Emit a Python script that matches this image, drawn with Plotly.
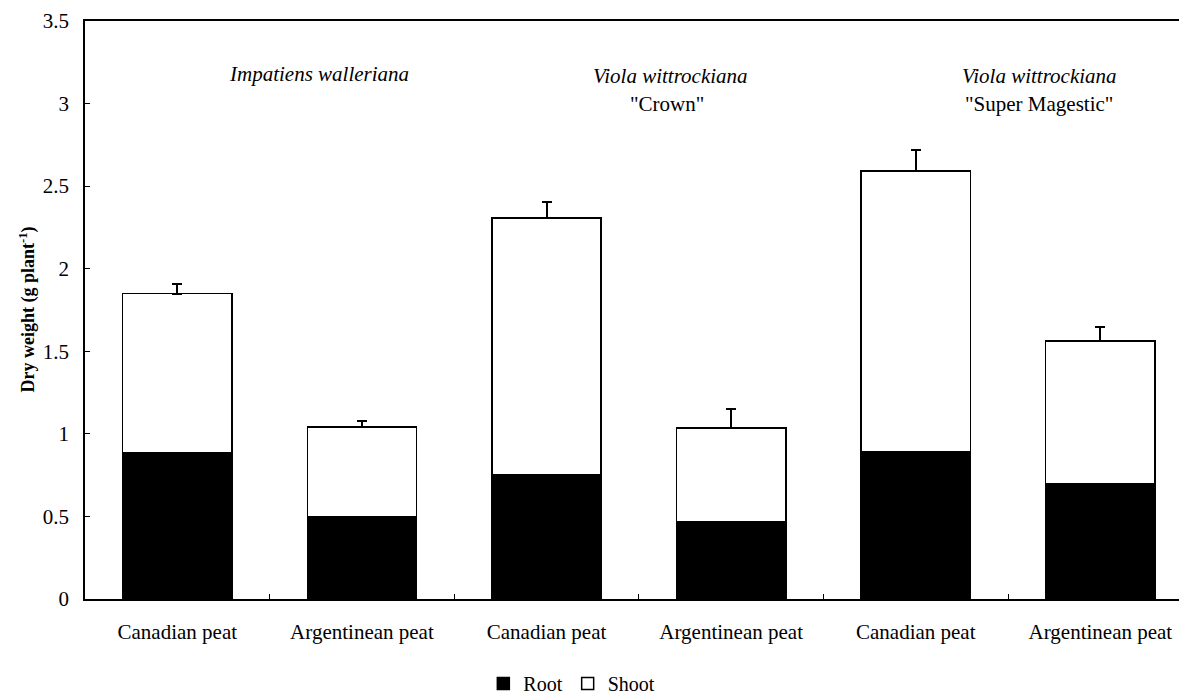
import plotly.graph_objects as go

categories = ["Canadian peat", "Argentinean peat", "Canadian peat",
              "Argentinean peat", "Canadian peat", "Argentinean peat"]
root = [0.885, 0.497, 0.751, 0.469, 0.892, 0.697]
shoot = [0.964, 0.546, 1.555, 0.566, 1.700, 0.866]
shoot_err = [0.056, 0.036, 0.097, 0.113, 0.127, 0.083]
y_ticks = [0, 0.5, 1, 1.5, 2, 2.5, 3, 3.5]
y_ticktext = ["0", "0.5", "1", "1.5", "2", "2.5", "3", "3.5"]

x_pos = list(range(len(categories)))
FONT = "Liberation Serif"

fig = go.Figure()
fig.add_trace(go.Bar(
    x=x_pos, y=root, name="Root",
    marker=dict(color="black", line=dict(color="black", width=1.5)),
))
fig.add_trace(go.Bar(
    x=x_pos, y=shoot, name="Shoot",
    marker=dict(color="white", line=dict(color="black", width=1.5)),
    error_y=dict(type="data", symmetric=False, array=shoot_err,
                 arrayminus=[0] * len(shoot_err),
                 color="black", thickness=2, width=5),
))

annos = [
    (0.77, 3.18, "<i>Impatiens walleriana</i>"),
    (2.67, 3.165, "<i>Viola wittrockiana</i>"),
    (2.65, 2.995, '"Crown"'),
    (4.67, 3.165, "<i>Viola wittrockiana</i>"),
    (4.67, 2.995, '"Super Magestic"'),
]
for ax, ay, t in annos:
    fig.add_annotation(x=ax, y=ay, xref="x", yref="y", text=t, showarrow=False,
                       xanchor="center", yanchor="middle",
                       font=dict(family=FONT, size=21, color="black"))

fig.add_annotation(x=-0.0525, y=0.5, xref="paper", yref="paper",
                   text="<b>Dry weight (g plant<sup>-1</sup>)</b>",
                   textangle=-90, showarrow=False, xanchor="center", yanchor="middle",
                   font=dict(family=FONT, size=18, color="black"))

fig.update_layout(
    width=1179, height=695, autosize=False,
    barmode="stack", bargap=0.408,
    plot_bgcolor="white", paper_bgcolor="white",
    margin=dict(l=85, r=0, t=21, b=96, pad=0, autoexpand=False),
    font=dict(family=FONT, size=21, color="black"),
    showlegend=True,
    legend=dict(orientation="h", x=0.445, xanchor="center", y=-0.146, yanchor="middle",
                font=dict(family=FONT, size=20, color="black"), traceorder="normal"),
    xaxis=dict(
        range=[-0.5, 5.426], tickmode="array", tickvals=x_pos, ticktext=categories,
        ticks="", showline=True, linecolor="black", linewidth=1.5, mirror=True,
        showgrid=False, zeroline=False, ticklabelstandoff=13, automargin=False,
        minor=dict(tickmode="array", tickvals=[0.5, 1.5, 2.5, 3.5, 4.5],
                   ticks="inside", ticklen=5, tickcolor="black", tickwidth=1, showgrid=False),
    ),
    yaxis=dict(
        range=[0, 3.5], tickmode="array", tickvals=y_ticks, ticktext=y_ticktext,
        ticks="inside", ticklen=5, tickcolor="black", tickwidth=1,
        showline=True, linecolor="black", linewidth=1.5, automargin=False,
        showgrid=False, zeroline=False, ticklabelstandoff=10,
    ),
)

fig.write_html("out.html", config={"displayModeBar": False},
               post_script="document.body.style.margin='0';document.body.style.overflow='hidden';")
